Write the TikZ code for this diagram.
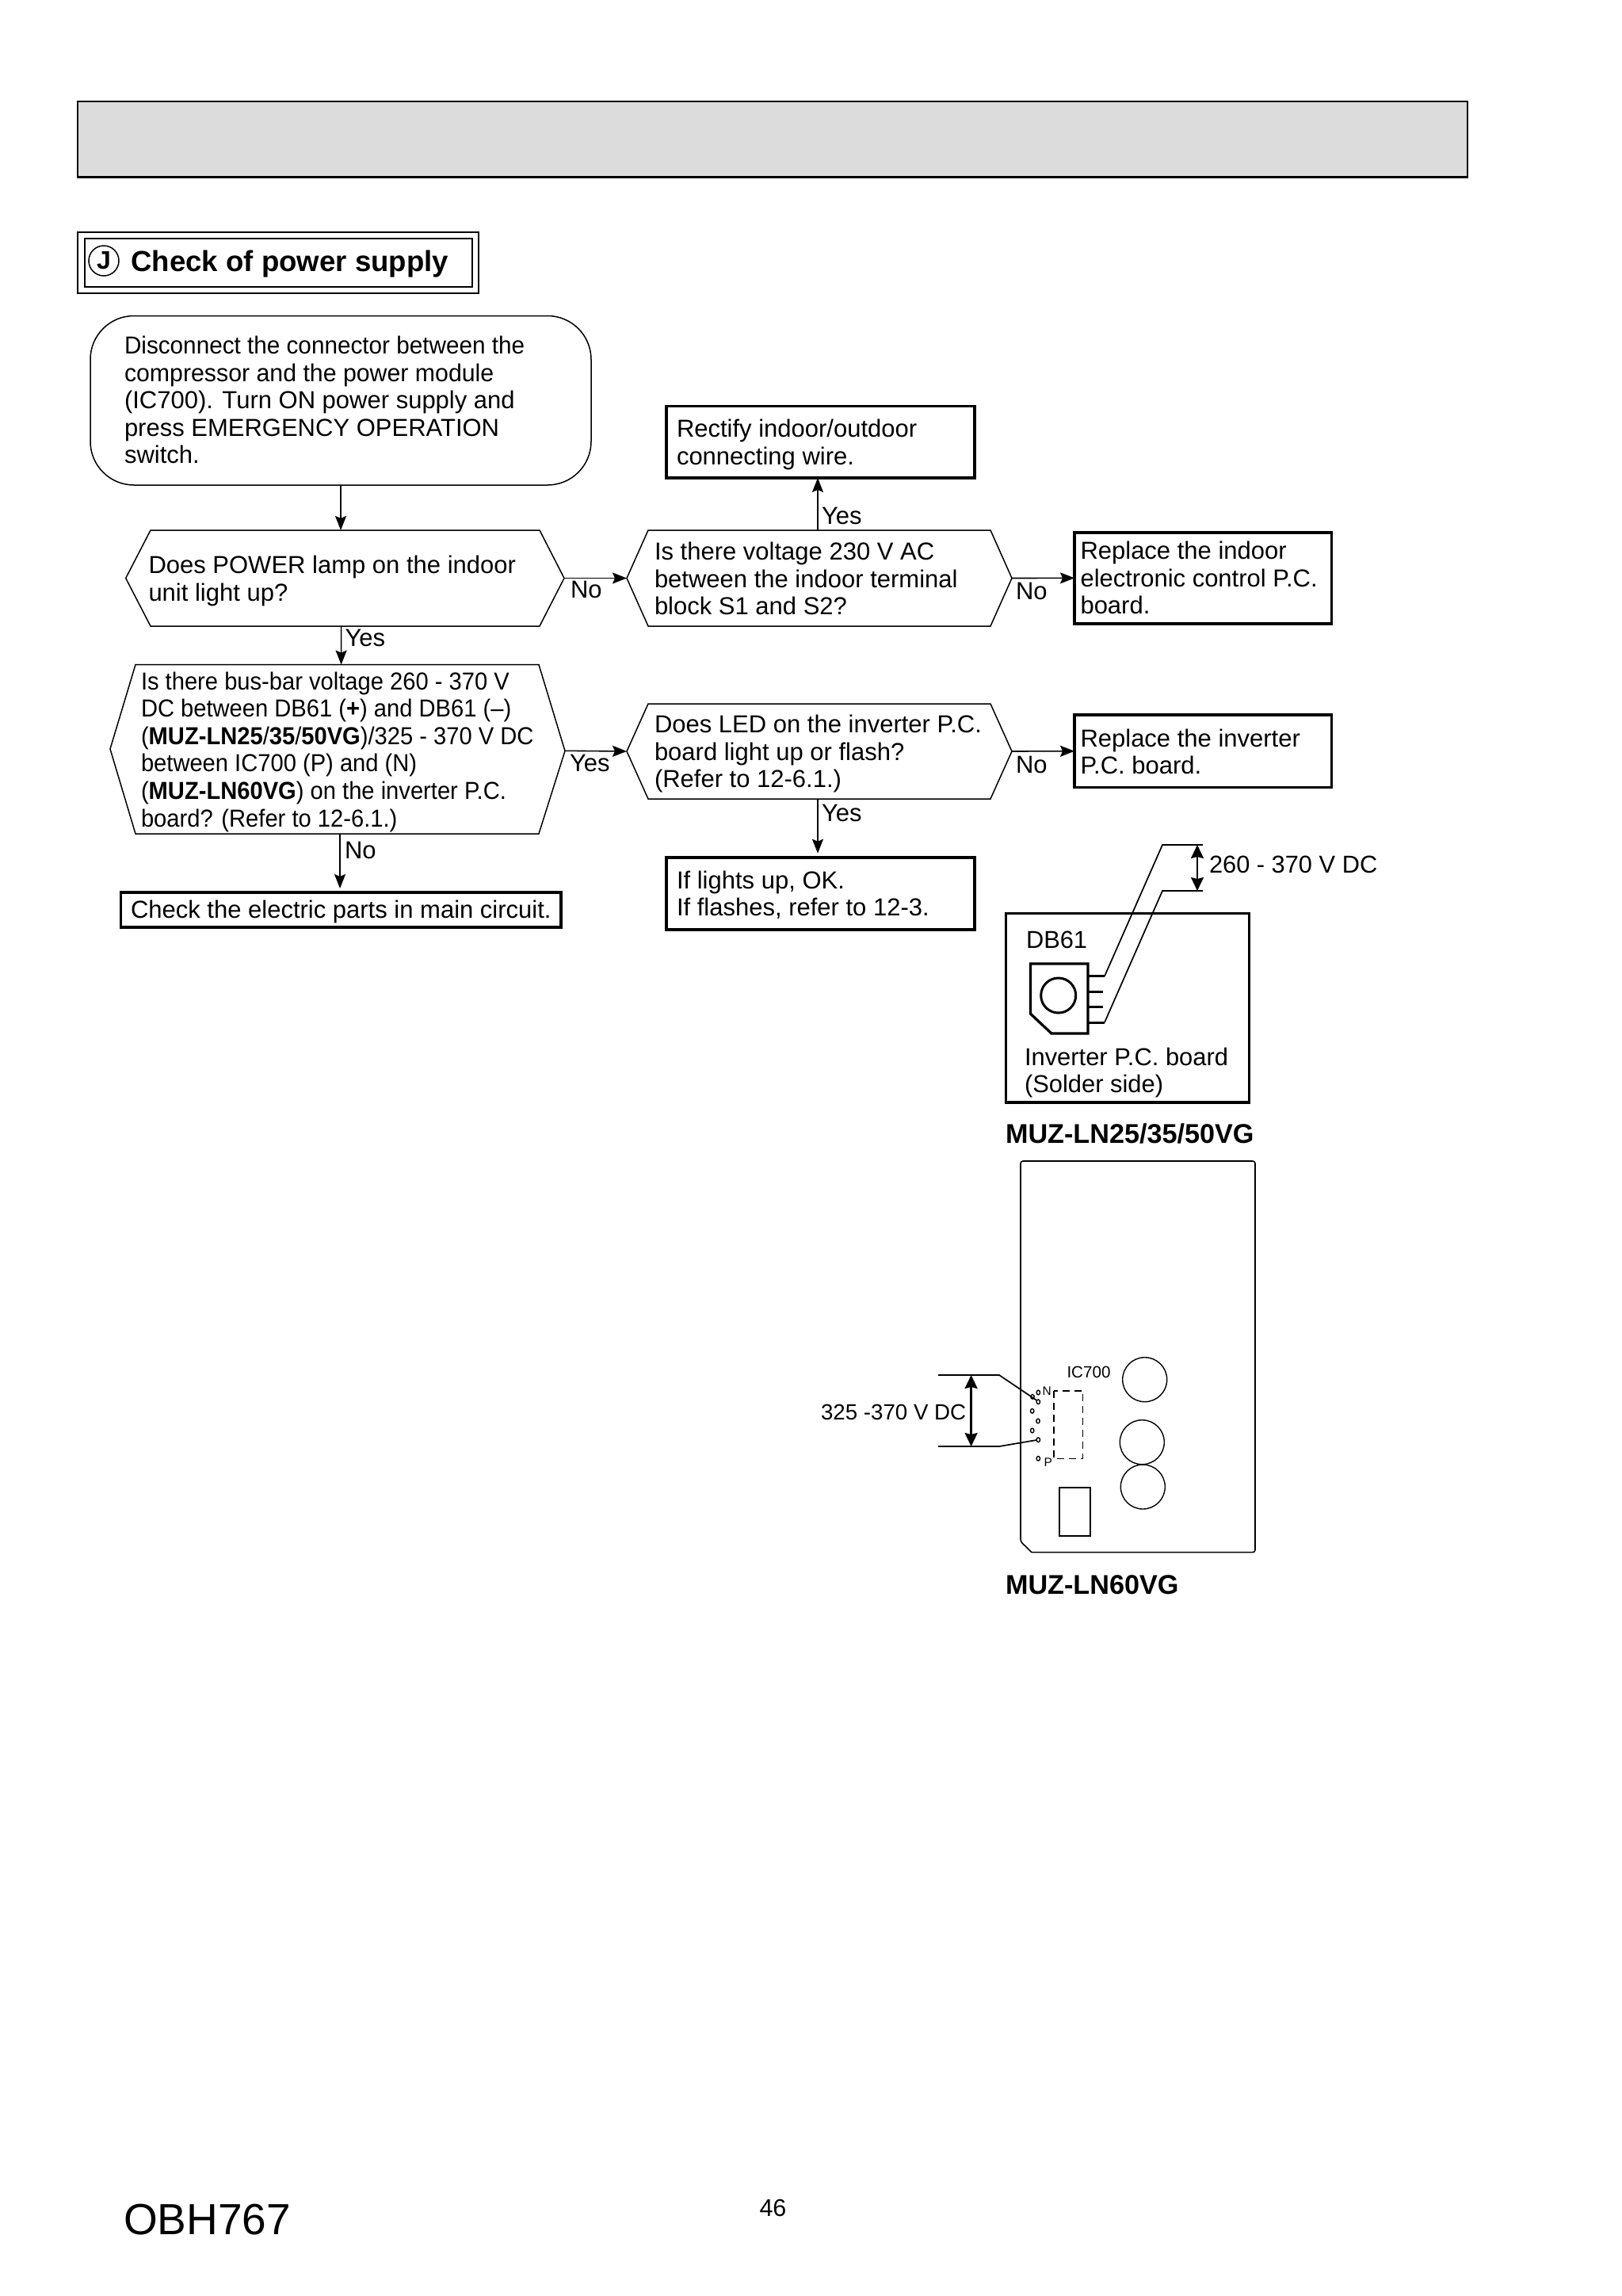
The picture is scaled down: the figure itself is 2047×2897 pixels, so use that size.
\documentclass[tikz,border=0pt]{standalone}
\usepackage{fontspec}
\setmainfont{Liberation Sans}
\newfontfamily\narrowA[FakeStretch=0.958]{Liberation Sans}
\newfontfamily\narrowC[FakeStretch=0.977]{Liberation Sans}
\newfontfamily\narrowB[FakeStretch=0.94]{Liberation Sans}
\usetikzlibrary{arrows.meta,calc}
\definecolor{headgray}{HTML}{DCDCDC}
\tikzset{
  txt/.style={anchor=north west,inner sep=0pt,outer sep=0pt,align=left,text=black},
  flowf/.style={font=\fontsize{31}{34.6}\selectfont},
  flowB/.style={font=\narrowB\fontsize{31}{34.6}\selectfont},
  boldf/.style={font=\bfseries\fontsize{34.2}{38}\selectfont},
  thinline/.style={draw=black,line width=1.5pt},
  heavybox/.style={draw=black,line width=3.6pt,fill=white,rectangle,inner sep=0pt,outer sep=0pt,anchor=north west},
  lightbox/.style={draw=black,line width=2pt,rectangle,inner sep=0pt,outer sep=0pt,anchor=north west},
  ghost/.style={rectangle,inner sep=0pt,outer sep=0pt,anchor=north west},
  flow/.style={draw=black,line width=1.6pt,-{Stealth[length=18pt,width=14pt,inset=3pt]}},
  dim/.style={draw=black,line width=2.4pt,{Stealth[length=17pt,width=16pt,inset=2pt]}-{Stealth[length=17pt,width=16pt,inset=2pt]}},
  wire/.style={draw=black,line width=1.7pt},
  pad/.style={draw=black,line width=1.4pt},
}
% text: name, x, baseline y, style, body
\newcommand{\tx}[5]{\node[txt,#4] (#1) at ({#2},{#3-30}) {\rule{0pt}{30pt}#5};}
% rectangle node: name, style, x1,y1,x2,y2
\newcommand{\rectn}[6]{\node[#2,minimum width={(#5-#3)*1pt},minimum height={(#6-#4)*1pt}] (#1) at (#3,#4) {};}
% hexagon: name, x tip left, x top left, x top right, x tip right, top, bottom, tip y left, tip y right
\newcommand{\hexa}[9]{%
  \node[ghost,minimum width={(#5-#2)*1pt},minimum height={(#7-#6)*1pt}] (#1) at (#2,#6) {};
  \draw[thinline,line join=miter] (#2,#8) -- (#3,#6) -- (#4,#6) -- (#5,#9) -- (#4,#7) -- (#3,#7) -- cycle;}
\begin{document}
\begin{tikzpicture}[x=1pt,y=-1pt]
\useasboundingbox (0,0) rectangle (2047,2897);
\fill[white] (0,0) rectangle (2047,2897);
% header band
\node[ghost,draw=black,line width=2.6pt,fill=headgray,minimum width=1754pt,minimum height=95.5pt] (band) at (98,128) {};
% title
\rectn{titleout}{lightbox}{98}{293}{604}{370}
\rectn{titlein}{lightbox}{106.5}{301}{596}{362}
\node[circle,draw=black,line width=1.5pt,minimum size=38pt,inner sep=0pt,font=\bfseries\fontsize{32}{36}\selectfont] (jmark) at (131,329) {\raisebox{-3pt}{J}};
\tx{title}{165.5}{342.7}{font=\bfseries\fontsize{36.6}{40}\selectfont}{Check of power supply}
% start
\node[ghost,draw=black,line width=1.5pt,rounded corners=55pt,minimum width=632pt,minimum height=213.5pt] (start) at (114,398.5) {};
\tx{starttx}{157}{446.5}{flowf}{{\narrowA Disconnect the connector between the}\\{\narrowC compressor and the power module}\\(IC700). Turn ON power supply and\\press EMERGENCY OPERATION\\switch.}
% decisions
\hexa{hA}{158.7}{190}{681}{712}{669}{790}{729.5}{729.5}
\tx{hAtx}{187.5}{723.5}{flowf}{Does POWER lamp on the indoor\\unit light up?}
\hexa{hB}{139}{171}{680}{713}{838.6}{1052}{945}{947.5}
\tx{hBtx}{178}{870}{flowB}{Is there bus-bar voltage 260 - 370 V\\DC between DB61 (\textbf{+}) and DB61 (–)\\(\textbf{MUZ-LN25}/\textbf{35}/\textbf{50VG})/325 - 370 V DC\\between IC700 (P) and (N)\\(\textbf{MUZ-LN60VG}) on the inverter P.C.\\board? (Refer to 12-6.1.)}
\hexa{hC}{791}{818}{1250}{1277}{669}{790}{729.5}{729.5}
\tx{hCtx}{826}{706.6}{flowf}{Is there voltage 230 V AC\\between the indoor terminal\\block S1 and S2?}
\hexa{hD}{791}{818}{1250}{1277}{888}{1008}{948}{948}
\tx{hDtx}{826}{924.7}{flowf}{Does LED on the inverter P.C.\\board light up or flash?\\(Refer to 12-6.1.)}
% result boxes
\rectn{bRect}{heavybox}{841}{512.4}{1230}{603}
\tx{bRecttx}{854}{551.4}{flowf}{Rectify indoor/outdoor\\connecting wire.}
\rectn{bIndoor}{heavybox}{1356}{671.7}{1680.5}{787}
\tx{bIndoortx}{1363.5}{705.7}{flowf}{Replace the indoor\\electronic control P.C.\\board.}
\rectn{bInv}{heavybox}{1356}{902}{1680.5}{993.5}
\tx{bInvtx}{1363.5}{942}{flowf}{Replace the inverter\\P.C. board.}
\rectn{bOk}{heavybox}{841}{1081.7}{1230}{1173}
\tx{bOktx}{854}{1121}{flowf}{If lights up, OK.\\If flashes, refer to 12-3.}
\rectn{bCheck}{heavybox}{152.5}{1126}{708}{1170}
\tx{bChecktx}{165}{1158}{flowf}{Check the electric parts in main circuit.}
% connectors
\draw[flow] (start.south) -- ([xshift=-5.3pt]hA.north);
\draw[flow] ([xshift=-4.7pt]hA.south) -- ([xshift=4.6pt]hB.north);
\draw[flow] (hA.east) -- (hC.west);
\draw[flow] ([xshift=-2pt]hC.north) -- ([xshift=-3.5pt]bRect.south);
\draw[flow] (hC.east) -- (bIndoor.west);
\draw[flow] ([yshift=-2pt]hB.east) -- (hD.west);
\draw[flow] (hD.east) -- (bInv.west);
\draw[flow,shorten >=5pt] ([xshift=-2pt]hD.south) -- ([xshift=-3.5pt]bOk.north);
\draw[flow,shorten >=5pt] ([xshift=3pt]hB.south) -- ([xshift=-1.2pt]bCheck.north);
% connector labels
\tx{lYesA}{435.5}{815}{flowf}{Yes}
\tx{lNoA}{720}{754}{flowf}{No}
\tx{lYesB}{1037}{661.6}{flowf}{Yes}
\tx{lNoB}{1282}{756}{flowf}{No}
\tx{lYesC}{719}{973.6}{flowf}{Yes}
\tx{lNoC}{1282}{975}{flowf}{No}
\tx{lYesD}{1037}{1036}{flowf}{Yes}
\tx{lNoD}{435}{1083}{flowf}{No}
% DB61 board
\rectn{dbBoard}{heavybox}{1269.6}{1152.3}{1576.4}{1391}
\coordinate (wTopEnd) at (1518,1066);
\coordinate (wBotEnd) at (1518,1124);
\draw[wire] (wTopEnd) -- (1467,1066) -- (1394,1231.7);
\draw[wire] (wBotEnd) -- (1467,1124) -- (1394,1290);
\draw[line width=3.3pt,line join=miter] (1300.4,1216) -- (1373,1216) -- (1373,1304) -- (1327,1304) -- (1300.4,1279) -- cycle;
\draw[line width=3pt] (1335.7,1256) circle (22);
\draw[line width=3pt] (1373,1231.7) -- (1394,1231.7);
\draw[line width=3pt] (1373,1251) -- (1392,1251);
\draw[line width=3pt] (1373,1270.7) -- (1392,1270.7);
\draw[line width=3pt] (1373,1290) -- (1394,1290);
\coordinate (dA) at (1511,1066);
\coordinate (dB) at (1511,1124);
\draw[dim] (dA) -- (dB);
\tx{lDbV}{1526}{1101.7}{font=\fontsize{30.8}{34}\selectfont}{260 - 370 V DC}
\tx{lDb}{1295}{1196}{font=\fontsize{30.8}{34}\selectfont}{DB61}
\tx{lInvb}{1293}{1344}{font=\fontsize{30.9}{34}\selectfont}{Inverter P.C. board\\(Solder side)}
\tx{mA}{1269}{1442}{boldf}{MUZ-LN25/35/50VG}
% IC700 board
\draw[line width=1.6pt,rounded corners=3pt] (1302,1958.6) -- (1584,1958.6) -- (1584,1465) -- (1288,1465) -- (1288,1945) [sharp corners] -- cycle;
\draw[line width=1.3pt] (1337,1877) rectangle (1376,1938);
\draw[line width=1.4pt] (1444.7,1740.7) circle (28);
\draw[line width=1.4pt] (1441.3,1819.7) circle (28);
\draw[line width=1.4pt] (1442.3,1876) circle (28);
\draw[line width=1.5pt,dash pattern=on 9pt off 6pt] (1330,1755) rectangle (1366.7,1840.7);
\foreach \px/\py in {1310.3/1757,1303/1762.3,1310.3/1768.7,1302.7/1780.3,1310/1793,1302.7/1805,1310.3/1816.7,1310.3/1840.3}
  \draw[pad] (\px,\py) ellipse (2.2 and 2.8);
\coordinate (wNEnd) at (1184,1735);
\coordinate (wPEnd) at (1184,1825);
\draw[wire] (wNEnd) -- (1261,1735) -- (1308.5,1767);
\draw[wire] (wPEnd) -- (1261,1825) -- (1308,1817);
\coordinate (dC) at (1225.6,1735);
\coordinate (dD) at (1225.6,1825);
\draw[dim] (dC) -- (dD);
\tx{lIcV}{1036}{1791}{font=\fontsize{27.7}{32}\selectfont}{325 -370 V DC}
\tx{lIc}{1346.5}{1738}{font=\fontsize{20.6}{24}\selectfont}{IC700}
\tx{lN}{1315.5}{1760}{font=\fontsize{15.5}{18}\selectfont}{N}
\tx{lP}{1317.5}{1850}{font=\fontsize{15.5}{18}\selectfont}{P}
\tx{mB}{1269}{2011}{boldf}{MUZ-LN60VG}
% footer
\node[txt,font=\fontsize{55}{60}\selectfont] (doc) at (156,2819.3-42) {\rule{0pt}{42pt}OBH767};
\tx{pageno}{958.5}{2796.7}{font=\fontsize{30.5}{34}\selectfont}{46}
\end{tikzpicture}
\end{document}
